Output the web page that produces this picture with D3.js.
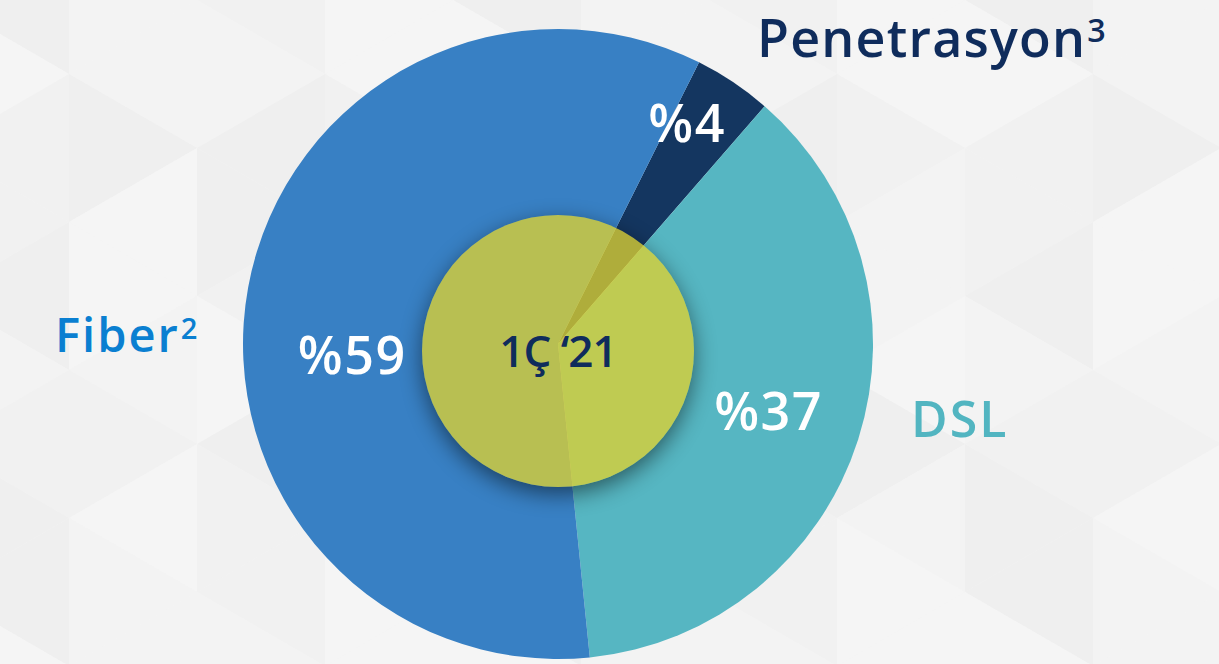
<!DOCTYPE html>
<html>
<head>
<meta charset="utf-8">
<script src="https://cdn.jsdelivr.net/npm/d3@7"></script>
<style>
  html, body { margin: 0; padding: 0; background: #f3f3f3; overflow: hidden; }
  svg { display: block; }
  text { font-family: "Open Sans", Lato, sans-serif; font-weight: 600; }
</style>
</head>
<body>
<svg id="chart"></svg>
<script>

// chart data
const categories = [ "Penetrasyon", "DSL", "Fiber" ] ;
const shares = [ 4, 37, 59 ] ;
const valueLabels = [ "%4", "%37", "%59" ] ;
const categoryLabels = [ "Penetrasyon", "DSL", "Fiber" ] ;
const footnotes = [ "3", "", "2" ] ;
const centerLabel = "1Ç ‘21" ;

const sliceColors = [ "#143660", "#56b6c2", "#3880c4" ] ;
const labelColors = [ "#0f2c5c", "#52b5c1", "#0a7fd1" ] ;

const width = 1219 ;
const height = 664 ;

const svg = d3.select( "#chart" )
	.attr( "width", width )
	.attr( "height", height ) ;

const defs = svg.append( "defs" ) ;

/*
	background - faint triangle tiling
*/
function drawBackground() {
	const bg = svg.append( "g" ).attr( "class", "bg" ) ;
	bg.append( "rect" )
		.attr( "width", width ).attr( "height", height )
		.attr( "fill", "#f4f4f4" ) ;

	const colW = 128, triH = 148, x0 = -59 ;
	const greys = [ "#f5f5f5", "#f1f1f1", "#f3f3f3", "#efefef" ] ;
	const mod4 = n => ((n % 4) + 4) % 4 ;
	const tris = [] ;
	for( let c=0 ; x0 + c*colW < width ; c++ ) {
		const xl = x0 + c*colW, xr = xl + colW ;
		const flip = c % 2 ;
		for( let r=-1 ; r*triH < height + triH ; r++ ) {
			const y = r*triH + (flip ? triH/2 : 0) ;
			// base on the left edge
			tris.push( { pts: [[xl,y],[xl,y+triH],[xr,y+triH/2]], k: mod4(c*3 + r*5) } ) ;
			// base on the right edge
			tris.push( { pts: [[xr,y+triH/2],[xr,y+triH*1.5],[xl,y+triH]], k: mod4(c*7 + r*2 + 1) } ) ;
		}
	}
	bg.selectAll( "polygon" )
		.data( tris )
		.enter().append( "polygon" )
			.attr( "points", d => d.pts.map( p => p.join(",") ).join(" ") )
			.attr( "fill", d => greys[d.k] ) ;
}
drawBackground() ;

/*
	pie
*/
const cx = 558, cy = 344, radius = 315 ;
const startDeg = 26.6 ;
const toRad = d => d * Math.PI / 180 ;

const pie = d3.pie()
	.sort( null )
	.value( (d, i) => shares[i] )
	.startAngle( toRad(startDeg) )
	.endAngle( toRad(startDeg) + 2*Math.PI ) ;

const arcs = pie( categories ) ;
const arc = d3.arc().innerRadius( 0 ).outerRadius( radius ) ;

const pieG = svg.append( "g" ).attr( "transform", `translate(${cx},${cy})` ) ;

pieG.selectAll( "path.slice" )
	.data( arcs )
	.enter().append( "path" )
		.attr( "class", "slice" )
		.attr( "d", arc )
		.attr( "fill", (d, i) => sliceColors[i] ) ;

// value labels - radius / angle offset per slice
const labelPos = [ { r: 256, da: -3.5 }, { r: 221, da: 0 }, { r: 206, da: -13.5 } ] ;
pieG.selectAll( "text.value" )
	.data( arcs )
	.enter().append( "text" )
		.attr( "class", "value" )
		.attr( "x", (d, i) => {
			const a = (d.startAngle + d.endAngle)/2 + toRad(labelPos[i].da) ;
			return Math.sin(a) * labelPos[i].r ;
		})
		.attr( "y", (d, i) => {
			const a = (d.startAngle + d.endAngle)/2 + toRad(labelPos[i].da) ;
			return -Math.cos(a) * labelPos[i].r ;
		})
		.attr( "dy", "0.36em" )
		.attr( "text-anchor", "middle" )
		.attr( "fill", "#ffffff" )
		.style( "font-size", "52px" )
		.style( "letter-spacing", "1.5px" )
		.text( (d, i) => valueLabels[i] ) ;

/*
	center disc with soft shadow
*/
const innerR = 136, innerCy = 351 ;

defs.append( "filter" )
	.attr( "id", "blur" )
	.attr( "x", "-50%" ).attr( "y", "-50%" )
	.attr( "width", "200%" ).attr( "height", "200%" )
	.append( "feGaussianBlur" ).attr( "stdDeviation", 11 ) ;

const mask = defs.append( "mask" ).attr( "id", "outside" ) ;
mask.append( "rect" ).attr( "width", width ).attr( "height", height ).attr( "fill", "white" ) ;
mask.append( "circle" ).attr( "cx", cx ).attr( "cy", innerCy ).attr( "r", innerR ).attr( "fill", "black" ) ;

svg.append( "g" )
	.attr( "mask", "url(#outside)" )
	.append( "circle" )
		.attr( "cx", cx ).attr( "cy", innerCy + 7 )
		.attr( "r", innerR )
		.attr( "fill", "#000" )
		.attr( "opacity", 0.5 )
		.attr( "filter", "url(#blur)" ) ;

svg.append( "circle" )
	.attr( "cx", cx ).attr( "cy", innerCy )
	.attr( "r", innerR )
	.attr( "fill", "rgb(222,209,48)" )
	.attr( "fill-opacity", 0.77 ) ;

svg.append( "text" )
	.attr( "x", cx ).attr( "y", 367 )
	.attr( "text-anchor", "middle" )
	.attr( "fill", "#0f2c5c" )
	.style( "font-size", "44px" )
	.style( "letter-spacing", "-1px" )
	.text( centerLabel ) ;

/*
	category labels with footnote marks
*/
const catPos = [
	{ x: 757, y: 57, size: 52, ls: 1.2 },
	{ x: 911, y: 437, size: 50, ls: 2 },
	{ x: 55, y: 352, size: 47, ls: 2 }
] ;
const cats = svg.selectAll( "text.cat" )
	.data( categoryLabels )
	.enter().append( "text" )
		.attr( "class", "cat" )
		.attr( "x", (d, i) => catPos[i].x )
		.attr( "y", (d, i) => catPos[i].y )
		.attr( "fill", (d, i) => labelColors[i] )
		.style( "font-size", (d, i) => catPos[i].size + "px" )
		.style( "letter-spacing", (d, i) => catPos[i].ls + "px" ) ;

cats.append( "tspan" ).text( d => d ) ;
cats.append( "tspan" )
	.attr( "dx", 1 )
	.attr( "dy", "-0.46em" )
	.style( "font-size", "0.62em" )
	.text( (d, i) => footnotes[i] ) ;

</script>
</body>
</html>
